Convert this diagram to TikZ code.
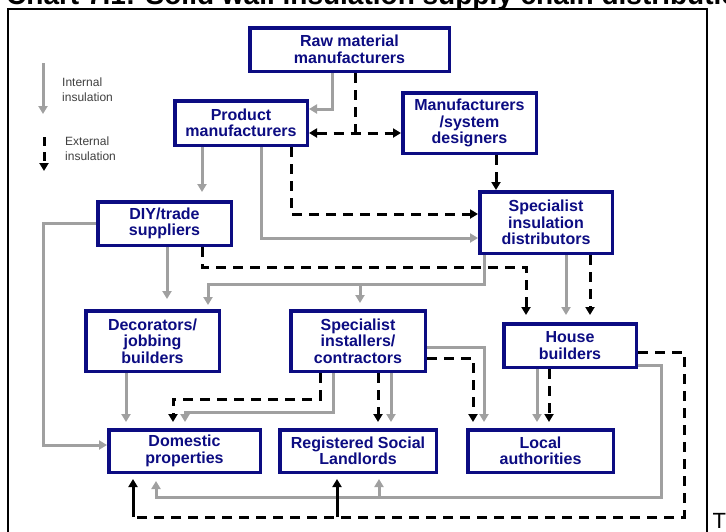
\documentclass[tikz,border=0pt]{standalone}
\usepackage{fontspec}
\setmainfont{Liberation Sans}
\usetikzlibrary{arrows.meta}
\definecolor{navy}{RGB}{12,12,130}
\definecolor{lgray}{RGB}{160,160,160}
\begin{document}
\begin{tikzpicture}[x=1pt,y=-1pt,
  box/.style={draw=navy, line width=3.5pt, fill=white, text=navy,
    font=\bfseries\fontsize{16}{16.5}\selectfont, align=center, inner sep=0pt},
  tipg/.style={-{Triangle[length=8pt,width=9pt]}},
  gline/.style={draw=lgray, line width=3pt, tipg},
  dline/.style={draw=black, line width=3pt, dash pattern=on 10pt off 7pt, tipg},
  sline/.style={draw=black, line width=3pt, tipg},
  legend/.style={font=\fontsize{12}{15}\selectfont, text=black!75, align=left, inner sep=0pt, anchor=west}
]
\useasboundingbox (0,0) rectangle (726,531);
\fill[white] (0,0) rectangle (726,531);

% page fragments
\node[anchor=base west, inner sep=0pt, font=\bfseries\fontsize{28}{28}\selectfont] (title) at (6,4.5)
  {Chart 7.1: Solid wall insulation supply chain distribution};
\node[anchor=north west, inner sep=0pt, font=\fontsize{22}{22}\selectfont] (tfrag) at (712.5,513) {T};
\draw[line width=2pt] (8,9) rectangle (707,545);

% legend
\coordinate (lg1) at (43,63); \coordinate (lg2) at (43,114);
\coordinate (ld1) at (44,137); \coordinate (ld2) at (44,171);
\draw[gline] (lg1) -- (lg2);
\draw[dline, dash pattern=on 9pt off 6pt] (ld1) -- (ld2);
\node[legend] (lint) at (62,90) {Internal\\insulation};
\node[legend] (lext) at (65,149) {External\\insulation};

% boxes
\node[box, minimum width=199.5pt, minimum height=43.5pt] (raw) at (349.5,49.5) {Raw material\\manufacturers};
\node[box, minimum width=132.5pt, minimum height=44.5pt] (prod) at (241,123) {Product\\manufacturers};
\node[box, minimum width=133.5pt, minimum height=60.5pt] (manuf) at (469.5,123) {Manufacturers\\/system\\designers};
\node[box, minimum width=133.5pt, minimum height=43.5pt] (diy) at (164.5,223.5) {DIY/trade\\suppliers};
\node[box, minimum width=132.5pt, minimum height=61.5pt] (dist) at (546,222.5) {Specialist\\insulation\\distributors};
\node[box, minimum width=133.5pt, minimum height=60.5pt] (deco) at (152.5,341) {Decorators/\\jobbing\\builders};
\node[box, minimum width=134.5pt, minimum height=60.5pt] (inst) at (358,341) {Specialist\\installers/\\contractors};
\node[box, minimum width=132.5pt, minimum height=43.5pt] (house) at (570,345.5) {House\\builders};
\node[box, minimum width=151.5pt, minimum height=42.5pt] (dom) at (184.5,451) {Domestic\\properties};
\node[box, minimum width=156.5pt, minimum height=42.5pt] (rsl) at (358,451) {Registered Social\\Landlords};
\node[box, minimum width=145.5pt, minimum height=42.5pt] (local) at (540.5,451) {Local\\authorities};

% junctions
\coordinate (j1) at (360,284);
\coordinate (j2) at (379,497);
\coordinate (j3) at (337,517);
\coordinate (j4) at (133,517);

% internal insulation (grey)
\draw[gline] (raw.south -| 332,0) |- (prod.east |- 0,109);
\draw[gline, shorten >=8pt] (prod.south -| 202,0) -- (diy.north -| 202,0);
\draw[gline] (prod.south -| 261,0) |- (dist.west |- 0,238);
\draw[gline] (diy.west |- 0,223) -- ++(-53,0) |- (dom.west |- 0,445);
\draw[gline, shorten >=10pt] (diy.south -| 167,0) -- (deco.north -| 167,0);
\draw[gline, shorten >=4pt] (dist.south -| 484,0) |- (j1) -| (deco.north -| 208,0);
\draw[gline, shorten >=6pt] (j1) -- (inst.north -| 360,0);
\draw[gline, shorten >=7pt] (dist.south -| 566,0) -- (house.north -| 566,0);
\draw[gline, shorten >=6pt] (deco.south -| 126,0) -- (dom.north -| 126,0);
\draw[gline, shorten >=6pt] (inst.south -| 333,0) -- ++(0,39) -| (dom.north -| 185,0);
\draw[gline, shorten >=6pt] (inst.south -| 391,0) -- (rsl.north -| 391,0);
\draw[gline, shorten >=6pt] (inst.east |- 0,347) -| (local.north -| 484,0);
\draw[gline, shorten >=6pt] (house.south -| 537,0) -- (local.north -| 537,0);
\draw[gline, shorten >=7pt] (house.east |- 0,365) -- ++(23,0) |- (j2) -| (dom.south -| 156,0);
\draw[gline, shorten >=5pt] (j2) -- (rsl.south -| 379,0);

% external insulation (black dashed)
\draw[dline, -] (raw.south -| 355,0) -- (355,133);
\draw[dline, {Triangle[length=8pt,width=9pt]}-{Triangle[length=8pt,width=9pt]}] (prod.east |- 0,133) -- (manuf.west |- 0,133);
\draw[dline] (manuf.south -| 496,0) -- (dist.north -| 496,0);
\draw[dline] (prod.south -| 291,0) |- (dist.west |- 0,214);
\draw[dline, shorten >=7pt] (diy.south -| 202,0) -- ++(0,20) -| (house.north -| 526,0);
\draw[dline, shorten >=7pt] (dist.south -| 590,0) -- (house.north -| 590,0);
\draw[dline, shorten >=6pt] (inst.south -| 320,0) -- ++(0,26) -| (dom.north -| 173,0);
\draw[dline, shorten >=6pt] (inst.south -| 378,0) -- (rsl.north -| 378,0);
\draw[dline, shorten >=6pt] (inst.east |- 0,358) -| (local.north -| 473,0);
\draw[dline, shorten >=6pt] (house.south -| 549,0) -- (local.north -| 549,0);
\draw[dline, -] (house.east |- 0,352) -- ++(46,0) |- (j4);
\draw[sline, shorten >=5pt] (j4) -- (dom.south -| 133,0);
\draw[sline, shorten >=5pt] (j3) -- (rsl.south -| 337,0);
\end{tikzpicture}
\end{document}
